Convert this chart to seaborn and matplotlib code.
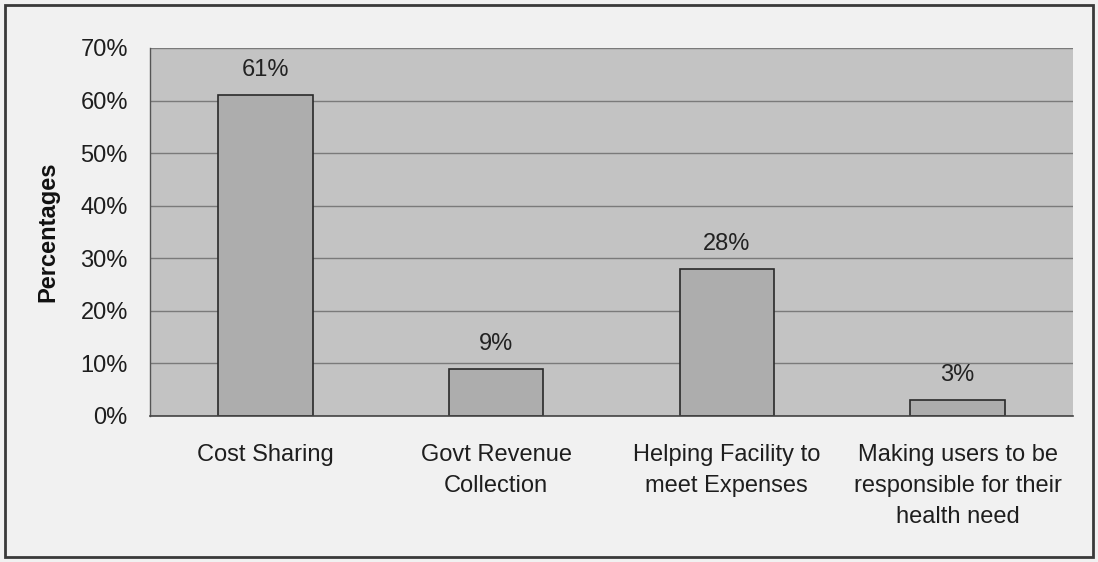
import matplotlib
matplotlib.use("Agg")
import matplotlib.pyplot as plt
import matplotlib.patches as mpatches
from matplotlib.ticker import FixedLocator, PercentFormatter
import seaborn as sns
import pandas as pd

categories = [
    "Cost Sharing",
    "Govt Revenue\nCollection",
    "Helping Facility to\nmeet Expenses",
    "Making users to be\nresponsible for their\nhealth need",
]
percentages = [61, 9, 28, 3]
y_ticks = [0, 10, 20, 30, 40, 50, 60, 70]

df = pd.DataFrame({"category": categories, "pct": percentages})

sns.set_theme(style="white")
plt.rcParams["font.family"] = ["Liberation Sans", "DejaVu Sans"]

fig = plt.figure(figsize=(10.98, 5.62), dpi=100)
fig.patch.set_facecolor("#f1f1f1")
ax = fig.add_axes([0.1366, 0.2598, 0.8406, 0.6548])
ax.set_facecolor("#c3c3c3")

sns.barplot(data=df, x="category", y="pct", ax=ax, color="#adadad",
            width=0.41, edgecolor="#2a2a2a", linewidth=1.2, saturation=1)

ax.set_ylim(0, 70)
ax.set_xlim(-0.5, len(categories) - 0.5)
ax.yaxis.set_major_locator(FixedLocator(y_ticks))
ax.yaxis.set_major_formatter(PercentFormatter(decimals=0))
ax.grid(axis="y", color="#7a7a7a", linewidth=1.0)
ax.set_axisbelow(True)

for s in ["top", "right"]:
    ax.spines[s].set_visible(False)
ax.spines["left"].set_color("#555555")
ax.spines["bottom"].set_color("#444444")
ax.spines["left"].set_linewidth(1.0)
ax.spines["bottom"].set_linewidth(1.2)

ax.tick_params(axis="y", which="major", direction="out", length=7, width=1,
               color="#666666", labelsize=17, labelcolor="#1e1e1e", pad=9)
ax.tick_params(axis="x", which="major", length=0, labelsize=17,
               labelcolor="#1e1e1e", pad=20)
ax.xaxis.set_minor_locator(FixedLocator([i - 0.5 for i in range(len(categories) + 1)]))
ax.tick_params(axis="x", which="minor", direction="out", length=6, width=1,
               color="#777777")
for lbl in ax.get_xticklabels():
    lbl.set_linespacing(1.55)
    lbl.set_ha("center")
    lbl.set_va("top")

ax.set_xlabel("")
ax.set_ylabel("Percentages", fontsize=17, fontweight="bold", color="#111111", labelpad=15)

for i, v in enumerate(percentages):
    ax.annotate(f"{v}%", xy=(i, v), xytext=(0, 10), textcoords="offset points",
                ha="center", va="bottom", fontsize=17, color="#222222")

# outer frame around the chart
fig.patches.append(mpatches.Rectangle((0.005, 0.009), 0.990, 0.982, transform=fig.transFigure,
                                      fill=False, edgecolor="#3a3a3a", linewidth=2.0))

fig.savefig("out.png", dpi=100, facecolor=fig.get_facecolor())
